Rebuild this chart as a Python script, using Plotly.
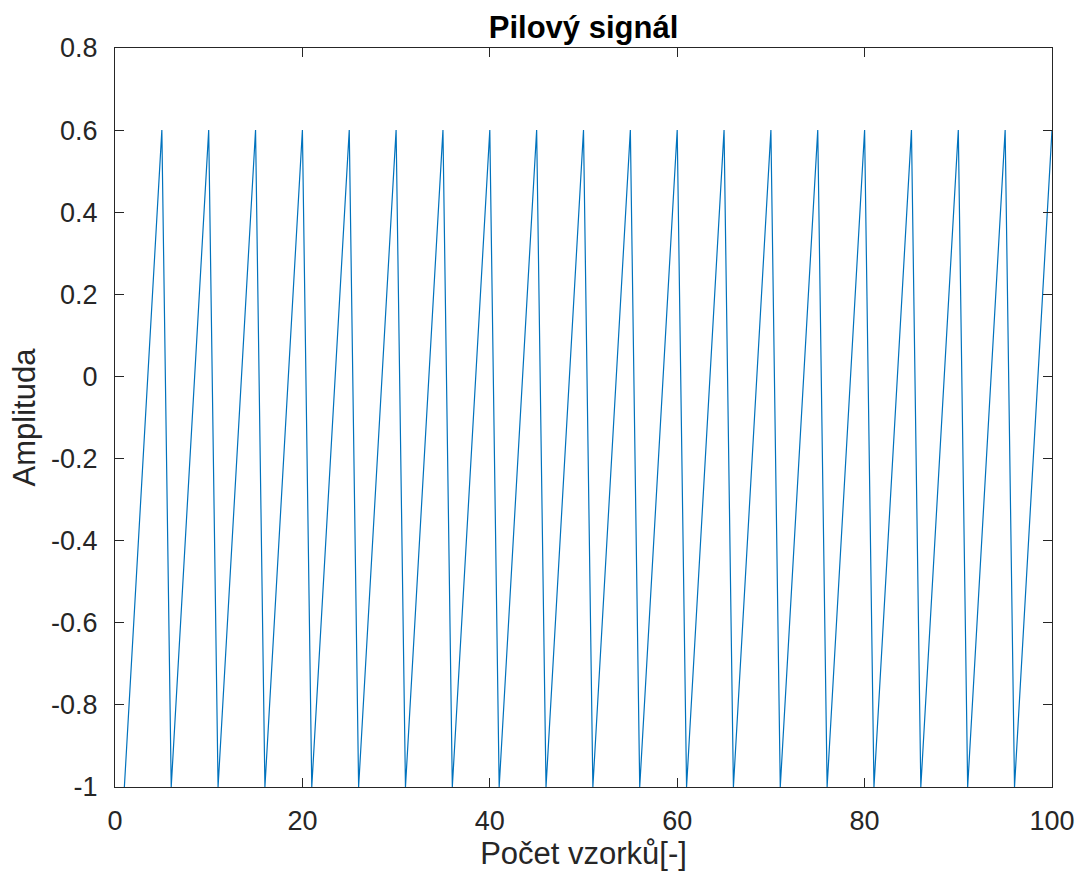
import plotly.graph_objects as go

# Sample indices and sawtooth amplitudes
samples = list(range(1, 101))
amplitude = [
    -1.0, -0.6, -0.2, 0.2, 0.6, -1.0, -0.6, -0.2, 0.2, 0.6,
    -1.0, -0.6, -0.2, 0.2, 0.6, -1.0, -0.6, -0.2, 0.2, 0.6,
    -1.0, -0.6, -0.2, 0.2, 0.6, -1.0, -0.6, -0.2, 0.2, 0.6,
    -1.0, -0.6, -0.2, 0.2, 0.6, -1.0, -0.6, -0.2, 0.2, 0.6,
    -1.0, -0.6, -0.2, 0.2, 0.6, -1.0, -0.6, -0.2, 0.2, 0.6,
    -1.0, -0.6, -0.2, 0.2, 0.6, -1.0, -0.6, -0.2, 0.2, 0.6,
    -1.0, -0.6, -0.2, 0.2, 0.6, -1.0, -0.6, -0.2, 0.2, 0.6,
    -1.0, -0.6, -0.2, 0.2, 0.6, -1.0, -0.6, -0.2, 0.2, 0.6,
    -1.0, -0.6, -0.2, 0.2, 0.6, -1.0, -0.6, -0.2, 0.2, 0.6,
    -1.0, -0.6, -0.2, 0.2, 0.6, -1.0, -0.6, -0.2, 0.2, 0.6,
]

x_ticks = [0, 20, 40, 60, 80, 100]
y_ticks = [-1, -0.8, -0.6, -0.4, -0.2, 0, 0.2, 0.4, 0.6, 0.8]
y_tick_text = ["-1", "-0.8", "-0.6", "-0.4", "-0.2", "0", "0.2", "0.4", "0.6", "0.8"]

FONT = "Liberation Sans, Arial, sans-serif"
INK = "#262626"

fig = go.Figure(
    go.Scatter(
        x=samples,
        y=amplitude,
        mode="lines",
        line=dict(color="#0072BD", width=1.2),
        showlegend=False,
    )
)

axis_common = dict(
    showgrid=False,
    zeroline=False,
    showline=True,
    linecolor=INK,
    linewidth=1.3,
    mirror="ticks",
    ticks="inside",
    ticklen=9,
    tickcolor=INK,
    tickwidth=1.3,
    tickfont=dict(family=FONT, size=27, color=INK),
)

fig.update_xaxes(
    range=[0, 100],
    tickvals=x_ticks,
    ticklabelstandoff=9,
    title=dict(
        text="Počet vzorků[-]",
        font=dict(family=FONT, size=31, color=INK),
        standoff=6,
    ),
    **axis_common,
)
fig.update_yaxes(
    range=[-1, 0.8],
    tickvals=y_ticks,
    ticktext=y_tick_text,
    ticklabelstandoff=11,
    title=dict(
        text="Amplituda",
        font=dict(family=FONT, size=31, color=INK),
        standoff=6,
    ),
    **axis_common,
)

fig.update_layout(
    width=1087,
    height=877,
    paper_bgcolor="white",
    plot_bgcolor="white",
    margin=dict(l=115, r=35, t=48, b=90),
    title=dict(
        text="<b>Pilový signál</b>",
        x=0.5,
        xref="paper",
        xanchor="center",
        y=1,
        yref="paper",
        yanchor="bottom",
        pad=dict(b=10),
        font=dict(family=FONT, size=31, color="black"),
    ),
)

fig.write_html("out.html")
